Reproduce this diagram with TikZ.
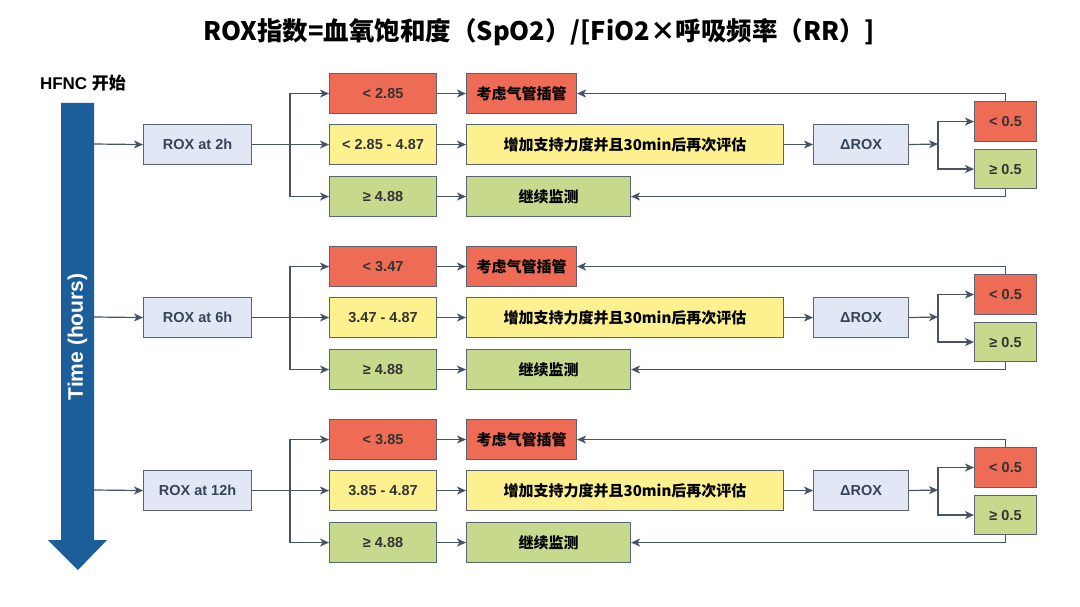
\documentclass[tikz,border=0pt]{standalone}
\usepackage{fontspec}
\setmainfont{Liberation Sans}
\newfontfamily\cjk{Noto Sans CJK SC}
\usetikzlibrary{arrows.meta}
\definecolor{redf}{HTML}{EE6B55}
\definecolor{yelf}{HTML}{FCF08F}
\definecolor{grnf}{HTML}{C6D98C}
\definecolor{bluf}{HTML}{E2E7F5}
\definecolor{edge}{HTML}{5A6470}
\definecolor{wire}{HTML}{465266}
\definecolor{timeb}{HTML}{1B5E9A}
\definecolor{txtb}{HTML}{36445A}
\tikzset{
  box/.style={draw=edge, line width=1.1pt, anchor=north west, inner sep=0pt,
    font=\fontsize{14.5}{16}\selectfont\bfseries},
  redbox/.style={box, fill=redf, text=black!80},
  yelbox/.style={box, fill=yelf, text=black!80},
  grnbox/.style={box, fill=grnf, text=black!80},
  blubox/.style={box, fill=bluf, text=txtb},
  zh/.style={font=\fontsize{15}{17}\selectfont\cjk\bfseries, text=black},
  wireline/.style={draw=wire, line width=1.2pt},
  arr/.style={wireline, -{Stealth[length=9pt,width=8pt,inset=2.5pt]}},
}
\begin{document}
\begin{tikzpicture}[x=1pt,y=-1pt]
\useasboundingbox (0,0) rectangle (1080,607);
\fill[white] (0,0) rectangle (1080,607);
% title
\node[font=\fontsize{25.5}{28}\selectfont\cjk\bfseries] (title) at (539,32) {ROX指数=血氧饱和度（SpO2）/[FiO2×呼吸频率（RR）]};
\node[font=\fontsize{17}{19}\selectfont\bfseries] (hfnc) at (83,83) {HFNC {\cjk\bfseries 开始}};
% time arrow
\fill[timeb] (61,103) -- (94,103) -- (94,540) -- (107,540) -- (78,570) -- (48,540) -- (61,540) -- cycle;
\node[rotate=90, text=white, font=\fontsize{21}{24}\selectfont\bfseries] (time) at (77.5,337) {Time (hours)};
\foreach \r/\o/\hh/\ta/\tb in {1/0/2h/{< 2.85}/{< 2.85 - 4.87}, 2/173/6h/{< 3.47}/{3.47 - 4.87}, 3/346/12h/{< 3.85}/{3.85 - 4.87}}{
  \coordinate (t\r) at (94,144+\o);
  \coordinate (br\r) at (290,144+\o);
  \coordinate (j\r) at (938,144+\o);
  \node[blubox, minimum width=108pt, minimum height=40pt] (rox\r) at (143,124+\o) {ROX at \hh};
  \node[redbox, minimum width=107pt, minimum height=40pt] (a1\r) at (329,73+\o) {\ta};
  \node[yelbox, minimum width=107pt, minimum height=40pt] (a2\r) at (329,124+\o) {\tb};
  \node[grnbox, minimum width=107pt, minimum height=40pt] (a3\r) at (329,176+\o) {≥ 4.88};
  \node[redbox, zh, minimum width=110pt, minimum height=40pt] (b1\r) at (466,73+\o) {考虑气管插管};
  \node[yelbox, zh, minimum width=317pt, minimum height=40pt] (b2\r) at (466,124+\o) {增加支持力度并且30min后再次评估};
  \node[grnbox, zh, minimum width=164pt, minimum height=40pt] (b3\r) at (466,176+\o) {继续监测};
  \node[blubox, minimum width=95pt, minimum height=40pt] (d\r) at (813,124+\o) {ΔROX};
  \node[redbox, minimum width=62pt, minimum height=40pt] (e1\r) at (974,101+\o) {< 0.5};
  \node[grnbox, minimum width=62pt, minimum height=39pt] (e2\r) at (974,149+\o) {≥ 0.5};
  \draw[arr] (t\r) -- (rox\r.west);
  \draw[arr] (rox\r.east) -- (a2\r.west);
  \draw[arr] (br\r) |- (a1\r.west);
  \draw[arr] (br\r) |- (a3\r.west);
  \draw[arr] (a1\r.east) -- (b1\r.west);
  \draw[arr] (a2\r.east) -- (b2\r.west);
  \draw[arr] (a3\r.east) -- (b3\r.west);
  \draw[arr] (b2\r.east) -- (d\r.west);
  \draw[arr] (d\r.east) -- (j\r);
  \draw[arr] (j\r) |- (e1\r.west);
  \draw[arr] (j\r) |- (e2\r.west);
  \draw[arr] (e1\r.north) |- (b1\r.east);
  \draw[arr] (e2\r.south) |- (b3\r.east);
}
\end{tikzpicture}
\end{document}
